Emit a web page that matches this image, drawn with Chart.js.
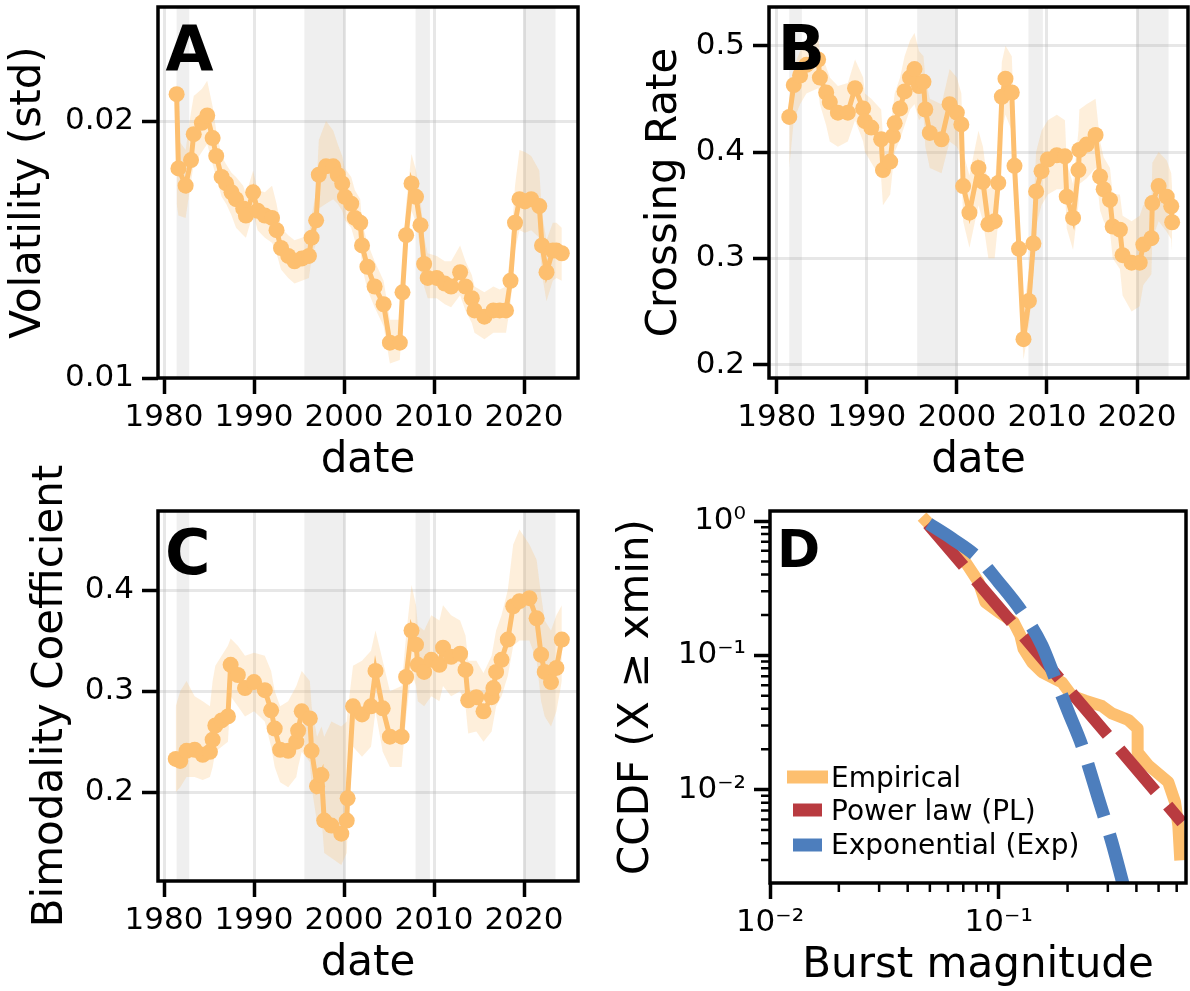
<!DOCTYPE html>
<html>
<head>
<meta charset="utf-8">
<script src="https://cdn.jsdelivr.net/npm/chart.js@4/dist/chart.umd.min.js"></script>
<style>
html, body { margin: 0; padding: 0; background: #fff; }
#root { position: relative; width: 1190px; height: 991px; overflow: hidden; }
canvas { position: absolute; }
</style>
</head>
<body>
<div id="root">
<canvas id="chart-a" width="595" height="495" style="left:0;top:0"></canvas>
<canvas id="chart-b" width="595" height="495" style="left:595px;top:0"></canvas>
<canvas id="chart-c" width="595" height="551" style="left:0;top:440px"></canvas>
<canvas id="chart-d" width="595" height="496" style="left:595px;top:495px"></canvas>
</div>
<script>
var yearTicks = [1980, 1990, 2000, 2010, 2020];
var recessions = [[1981.4, 1982.8], [1995.6, 2000.1], [2007.95, 2009.55], [2019.95, 2023.5]];

// A: volatility
var datesA = [1981.4, 1981.6, 1982.4, 1983.0, 1983.3, 1984.2, 1984.8, 1985.4, 1985.8, 1986.4, 1986.9, 1987.5, 1988.0, 1988.8, 1989.1, 1989.9, 1990.4, 1991.2, 1992.0, 1992.5, 1993.0, 1993.8, 1994.5, 1995.3, 1996.1, 1996.4, 1996.9, 1997.2, 1998.0, 1998.8, 1999.3, 1999.8, 2000.1, 2000.8, 2001.2, 2001.8, 2002.0, 2002.6, 2003.4, 2004.4, 2005.1, 2006.2, 2006.5, 2006.9, 2007.5, 2008.0, 2008.5, 2008.9, 2009.3, 2010.3, 2011.2, 2011.9, 2012.9, 2013.5, 2014.2, 2014.5, 2015.6, 2016.6, 2017.3, 2018.0, 2018.5, 2019.0, 2019.5, 2020.1, 2020.8, 2021.7, 2022.0, 2022.5, 2023.2, 2023.6, 2024.2];
var volA = [0.0215, 0.0176, 0.0168, 0.0180, 0.0193, 0.0199, 0.0203, 0.0191, 0.0182, 0.0172, 0.0169, 0.0165, 0.0162, 0.0158, 0.0155, 0.0165, 0.0157, 0.0155, 0.0154, 0.0149, 0.0142, 0.0139, 0.0137, 0.0138, 0.0139, 0.0146, 0.0153, 0.0173, 0.0177, 0.0177, 0.0173, 0.0169, 0.0163, 0.0160, 0.0154, 0.0152, 0.0143, 0.0135, 0.0128, 0.0122, 0.0110, 0.0110, 0.0126, 0.0147, 0.0169, 0.0163, 0.0151, 0.0136, 0.0131, 0.0131, 0.0129, 0.0128, 0.0133, 0.0128, 0.0124, 0.0120, 0.0118, 0.0120, 0.0120, 0.0120, 0.0130, 0.0152, 0.0162, 0.0161, 0.0162, 0.0159, 0.0143, 0.0133, 0.0141, 0.0141, 0.0140];
var volLoA = [0.0160, 0.0155, 0.0154, 0.0170, 0.0178, 0.0184, 0.0188, 0.0178, 0.0172, 0.0163, 0.0160, 0.0155, 0.0150, 0.0147, 0.0146, 0.0156, 0.0149, 0.0146, 0.0144, 0.0140, 0.0134, 0.0131, 0.0129, 0.0130, 0.0131, 0.0138, 0.0144, 0.0158, 0.0160, 0.0162, 0.0160, 0.0157, 0.0153, 0.0150, 0.0145, 0.0143, 0.0135, 0.0127, 0.0121, 0.0115, 0.0104, 0.0105, 0.0118, 0.0138, 0.0157, 0.0152, 0.0141, 0.0128, 0.0124, 0.0124, 0.0122, 0.0121, 0.0125, 0.0120, 0.0116, 0.0113, 0.0111, 0.0113, 0.0113, 0.0113, 0.0122, 0.0141, 0.0149, 0.0148, 0.0149, 0.0146, 0.0132, 0.0123, 0.0130, 0.0131, 0.0130];
var volHiA = [0.0232, 0.0190, 0.0185, 0.0205, 0.0214, 0.0218, 0.0223, 0.0208, 0.0195, 0.0182, 0.0178, 0.0174, 0.0172, 0.0168, 0.0164, 0.0175, 0.0166, 0.0165, 0.0168, 0.0160, 0.0150, 0.0147, 0.0145, 0.0146, 0.0147, 0.0155, 0.0165, 0.0190, 0.0200, 0.0195, 0.0188, 0.0182, 0.0176, 0.0172, 0.0166, 0.0162, 0.0152, 0.0144, 0.0137, 0.0130, 0.0117, 0.0117, 0.0136, 0.0160, 0.0183, 0.0175, 0.0162, 0.0146, 0.0140, 0.0139, 0.0137, 0.0137, 0.0143, 0.0137, 0.0132, 0.0128, 0.0126, 0.0128, 0.0127, 0.0128, 0.0140, 0.0168, 0.0185, 0.0184, 0.0182, 0.0175, 0.0156, 0.0145, 0.0152, 0.0152, 0.0150];
var ticksA = [0.01, 0.02];

// B: crossing rate
var datesB = [1981.4, 1981.9, 1982.6, 1983.3, 1984.6, 1984.8, 1985.5, 1985.9, 1986.8, 1987.9, 1988.7, 1989.6, 1989.8, 1990.5, 1991.6, 1991.8, 1992.6, 1992.9, 1993.1, 1993.7, 1994.2, 1994.8, 1995.3, 1995.8, 1996.3, 1996.5, 1997.0, 1998.3, 1999.2, 2000.0, 2000.5, 2000.7, 2001.4, 2002.4, 2002.9, 2003.5, 2004.2, 2004.6, 2005.0, 2005.4, 2006.1, 2006.4, 2006.9, 2007.4, 2008.0, 2008.5, 2008.8, 2009.4, 2010.1, 2011.1, 2012.0, 2012.2, 2012.9, 2013.5, 2013.6, 2014.4, 2015.4, 2015.9, 2016.3, 2017.0, 2017.3, 2018.1, 2018.4, 2019.4, 2020.3, 2020.7, 2021.6, 2021.7, 2022.4, 2023.3, 2023.8, 2023.9];
var crossB = [0.433, 0.463, 0.472, 0.482, 0.487, 0.470, 0.456, 0.447, 0.437, 0.437, 0.460, 0.441, 0.429, 0.423, 0.412, 0.383, 0.391, 0.415, 0.427, 0.441, 0.457, 0.470, 0.478, 0.462, 0.466, 0.440, 0.418, 0.412, 0.445, 0.437, 0.426, 0.368, 0.343, 0.385, 0.372, 0.332, 0.335, 0.371, 0.452, 0.469, 0.456, 0.387, 0.309, 0.224, 0.260, 0.314, 0.363, 0.382, 0.393, 0.397, 0.396, 0.358, 0.338, 0.383, 0.402, 0.407, 0.416, 0.377, 0.365, 0.355, 0.330, 0.327, 0.303, 0.296, 0.296, 0.313, 0.319, 0.352, 0.368, 0.358, 0.349, 0.334];
var crossLoB = [0.385, 0.430, 0.445, 0.455, 0.460, 0.445, 0.425, 0.410, 0.405, 0.410, 0.430, 0.410, 0.400, 0.390, 0.375, 0.350, 0.360, 0.385, 0.400, 0.412, 0.425, 0.440, 0.445, 0.430, 0.435, 0.405, 0.385, 0.380, 0.410, 0.405, 0.395, 0.335, 0.310, 0.350, 0.335, 0.300, 0.300, 0.335, 0.420, 0.435, 0.420, 0.350, 0.275, 0.205, 0.235, 0.285, 0.330, 0.350, 0.360, 0.365, 0.365, 0.328, 0.308, 0.350, 0.370, 0.375, 0.385, 0.345, 0.335, 0.325, 0.300, 0.290, 0.265, 0.250, 0.255, 0.275, 0.285, 0.318, 0.335, 0.325, 0.318, 0.305];
var crossHiB = [0.450, 0.480, 0.495, 0.505, 0.510, 0.495, 0.480, 0.470, 0.462, 0.465, 0.487, 0.470, 0.455, 0.450, 0.440, 0.415, 0.420, 0.440, 0.455, 0.470, 0.490, 0.505, 0.512, 0.495, 0.490, 0.470, 0.450, 0.445, 0.478, 0.470, 0.455, 0.400, 0.378, 0.420, 0.405, 0.365, 0.370, 0.410, 0.485, 0.500, 0.490, 0.420, 0.345, 0.250, 0.290, 0.345, 0.400, 0.420, 0.430, 0.435, 0.430, 0.390, 0.370, 0.420, 0.440, 0.445, 0.450, 0.410, 0.395, 0.385, 0.360, 0.360, 0.340, 0.335, 0.340, 0.350, 0.355, 0.390, 0.400, 0.392, 0.380, 0.365];
var ticksB = [0.2, 0.3, 0.4, 0.5];

// C: bimodality coefficient
var datesC = [1981.3, 1981.8, 1982.5, 1983.4, 1984.3, 1985.1, 1985.4, 1985.7, 1986.4, 1987.1, 1987.4, 1988.2, 1989.0, 1990.0, 1991.2, 1991.9, 1992.3, 1992.9, 1993.8, 1994.7, 1994.9, 1995.3, 1996.2, 1996.4, 1997.0, 1997.5, 1997.8, 1998.6, 1999.7, 2000.3, 2000.4, 2001.0, 2002.0, 2003.0, 2003.5, 2004.3, 2005.1, 2006.4, 2006.9, 2007.5, 2008.0, 2008.2, 2008.9, 2009.7, 2010.6, 2011.0, 2011.9, 2012.9, 2013.5, 2013.8, 2014.7, 2015.5, 2016.4, 2016.6, 2016.9, 2017.5, 2018.2, 2018.8, 2019.5, 2020.6, 2021.4, 2021.9, 2022.3, 2023.0, 2023.6, 2024.2];
var bimodC = [0.233, 0.231, 0.241, 0.242, 0.237, 0.240, 0.252, 0.266, 0.271, 0.275, 0.326, 0.316, 0.303, 0.309, 0.301, 0.281, 0.263, 0.242, 0.241, 0.250, 0.261, 0.280, 0.273, 0.241, 0.206, 0.217, 0.172, 0.167, 0.159, 0.172, 0.194, 0.285, 0.277, 0.285, 0.320, 0.283, 0.255, 0.255, 0.314, 0.360, 0.346, 0.326, 0.319, 0.331, 0.326, 0.343, 0.334, 0.337, 0.321, 0.291, 0.294, 0.280, 0.294, 0.303, 0.319, 0.331, 0.351, 0.384, 0.389, 0.392, 0.372, 0.336, 0.319, 0.309, 0.323, 0.351];
var bimodLoC = [0.200, 0.205, 0.215, 0.215, 0.212, 0.215, 0.225, 0.240, 0.245, 0.250, 0.295, 0.285, 0.275, 0.280, 0.270, 0.245, 0.225, 0.210, 0.205, 0.215, 0.225, 0.240, 0.230, 0.205, 0.170, 0.175, 0.140, 0.135, 0.128, 0.140, 0.160, 0.245, 0.235, 0.245, 0.280, 0.240, 0.225, 0.225, 0.275, 0.320, 0.305, 0.290, 0.285, 0.295, 0.290, 0.305, 0.295, 0.300, 0.285, 0.258, 0.260, 0.250, 0.260, 0.270, 0.285, 0.295, 0.315, 0.345, 0.350, 0.350, 0.330, 0.290, 0.275, 0.265, 0.280, 0.310];
var bimodHiC = [0.285, 0.300, 0.310, 0.295, 0.290, 0.285, 0.310, 0.325, 0.335, 0.345, 0.352, 0.345, 0.335, 0.338, 0.335, 0.320, 0.300, 0.285, 0.290, 0.305, 0.310, 0.320, 0.310, 0.285, 0.255, 0.265, 0.255, 0.270, 0.265, 0.270, 0.280, 0.325, 0.330, 0.340, 0.360, 0.330, 0.300, 0.305, 0.355, 0.405, 0.385, 0.365, 0.360, 0.375, 0.370, 0.385, 0.375, 0.370, 0.355, 0.330, 0.330, 0.318, 0.335, 0.345, 0.360, 0.375, 0.400, 0.445, 0.460, 0.445, 0.430, 0.395, 0.370, 0.360, 0.375, 0.385];
var ticksC = [0.2, 0.3, 0.4];

// D: burst magnitude CCDF
var empX = [0.0482, 0.0715, 0.0817, 0.0874, 0.0999, 0.1161, 0.1243, 0.1284, 0.1397, 0.1545, 0.1889, 0.2089, 0.2388, 0.2824, 0.3124, 0.369, 0.405, 0.405, 0.451, 0.551, 0.590, 0.610, 0.620];
var empY = [1.0, 0.495, 0.351, 0.249, 0.210, 0.177, 0.141, 0.112, 0.089, 0.075, 0.063, 0.050, 0.046, 0.042, 0.037, 0.033, 0.0285, 0.019, 0.0152, 0.0114, 0.0081, 0.0054, 0.0033];
var plX = [0.049, 0.633];
var plY = [0.95, 0.0057];
var expX = [0.0494, 0.0625, 0.0804, 0.0999, 0.1264, 0.1545, 0.1766, 0.2018, 0.2309, 0.2729, 0.3124, 0.3509];
var expY = [0.956, 0.74, 0.54, 0.351, 0.210, 0.1187, 0.0671, 0.0378, 0.0214, 0.00857, 0.00407, 0.00194];
var ticksD = [0.01, 0.1, 1];
var tickLabelsD = ['10\u207B\u00B2', '10\u207B\u00B9', '10\u2070'];
var legendD = ['Empirical', 'Power law (PL)', 'Exponential (Exp)'];

var ORANGE = '#fdbf6f';
var RED = '#b93b40';
var BLUE = '#4d7ebd';
var BAND = 'rgba(253,191,111,0.25)';
var GRID = 'rgba(176,176,176,0.3)';
var SPAN = 'rgba(128,128,128,0.13)';
var FONT = '"DejaVu Sans"';

Chart.defaults.font.family = 'DejaVu Sans';
Chart.defaults.color = '#000';

function pts(xs, ys) {
	return xs.map(function (x, i) { return {x: x, y: ys[i]}; });
}
function setTicks(values) {
	return function (scale) {
		scale.ticks = values.map(function (v) { return {value: v}; });
	};
}
function fixWidth(w) {
	return function (scale) { scale.width = w; scale.paddingTop = 0; scale.paddingBottom = 0; };
}
function fixHeight(h) {
	return function (scale) { scale.height = h; scale.paddingLeft = 0; scale.paddingRight = 0; };
}

var shade = {
	id: 'shade',
	beforeDraw: function (chart) {
		var ctx = chart.ctx, a = chart.chartArea, x = chart.scales.x;
		ctx.save();
		ctx.fillStyle = SPAN;
		recessions.forEach(function (r) {
			var x0 = x.getPixelForValue(r[0]), x1 = x.getPixelForValue(r[1]);
			ctx.fillRect(x0, a.top, x1 - x0, a.bottom - a.top);
		});
		ctx.restore();
	}
};

function frame(letter, size, dx, base) {
	return {
		id: 'frame',
		afterDraw: function (chart) {
			var ctx = chart.ctx, a = chart.chartArea;
			ctx.save();
			ctx.lineWidth = 3.5;
			ctx.strokeStyle = '#000';
			ctx.strokeRect(a.left, a.top, a.right - a.left, a.bottom - a.top);
			ctx.fillStyle = '#000';
			ctx.font = 'bold ' + size + 'px ' + FONT;
			ctx.textBaseline = 'alphabetic';
			ctx.textAlign = 'left';
			ctx.fillText(letter, a.left + dx, base);
			ctx.restore();
		}
	};
}

function series(dates, vals, lo, hi) {
	return [{
		data: pts(dates, vals),
		borderColor: ORANGE,
		borderWidth: 5,
		pointRadius: 8,
		pointBorderWidth: 0,
		pointBackgroundColor: ORANGE,
		fill: false
	}, {
		data: pts(dates, hi),
		borderColor: 'rgba(0,0,0,0)',
		borderWidth: 0,
		pointRadius: 0,
		backgroundColor: BAND,
		fill: '+1'
	}, {
		data: pts(dates, lo),
		borderColor: 'rgba(0,0,0,0)',
		borderWidth: 0,
		pointRadius: 0,
		fill: false
	}];
}

function timeOptions(c) {
	return {
		responsive: false,
		animation: false,
		devicePixelRatio: 1,
		events: [],
		layout: {padding: {top: c.top, right: c.right, left: 0, bottom: 0}, autoPadding: false},
		plugins: {legend: {display: false}, tooltip: {enabled: false}},
		scales: {
			x: {
				type: 'linear', min: c.xmin, max: c.xmax,
				afterBuildTicks: setTicks(yearTicks),
				afterFit: fixHeight(c.xh),
				border: {display: false},
				grid: {color: GRID, lineWidth: 3, tickColor: '#000', tickWidth: 3.5, tickLength: 16},
				ticks: {font: {size: 31}, padding: 5, autoSkip: false, maxRotation: 0, minRotation: 0,
					callback: function (v) { return String(v); }},
				title: {display: true, text: 'date', font: {size: 42}, padding: {top: 0, bottom: c.xtp}}
			},
			y: {
				type: c.ytype, min: c.ymin, max: c.ymax,
				afterBuildTicks: setTicks(c.yticks),
				afterFit: fixWidth(c.yw),
				border: {display: false},
				grid: {color: GRID, lineWidth: 3, tickColor: '#000', tickWidth: 3.5, tickLength: 16},
				ticks: {font: {size: 31}, padding: 8, autoSkip: false, callback: c.fmt},
				title: {display: !!c.ytitle, text: c.ytitle || '', font: {size: 42}, padding: {top: c.ytp, bottom: 0}}
			}
		}
	};
}

new Chart(document.getElementById('chart-a'), {
	type: 'line',
	data: {datasets: series(datesA, volA, volLoA, volHiA)},
	options: timeOptions({top: 7, right: 17, xh: 117, yw: 158, xtp: 9, ytp: 4,
		xmin: 1979.33, xmax: 2026.0, ytype: 'logarithmic', ymin: 0.01, ymax: 0.0272, yticks: ticksA,
		fmt: function (v) { return v.toFixed(2); }, ytitle: 'Volatility (std)'}),
	plugins: [shade, frame('A', 62, 7.5, 70)]
});

new Chart(document.getElementById('chart-b'), {
	type: 'line',
	data: {datasets: series(datesB, crossB, crossLoB, crossHiB)},
	options: timeOptions({top: 7, right: 2, xh: 117, yw: 174, xtp: 9, ytp: 45,
		xmin: 1979.15, xmax: 2025.66, ytype: 'linear', ymin: 0.1875, ymax: 0.5364, yticks: ticksB,
		fmt: function (v) { return v.toFixed(1); }, ytitle: 'Crossing Rate'}),
	plugins: [shade, frame('B', 62, 8.7, 70)]
});

// the long C label does not fit the axis height, so it is drawn by hand
var titleC = {
	id: 'titleC',
	afterDraw: function (chart) {
		var ctx = chart.ctx, a = chart.chartArea;
		ctx.save();
		ctx.translate(62, (a.top + a.bottom) / 2);
		ctx.rotate(-Math.PI / 2);
		ctx.fillStyle = '#000';
		ctx.font = '42px ' + FONT;
		ctx.textAlign = 'center';
		ctx.textBaseline = 'alphabetic';
		ctx.fillText('Bimodality Coefficient', 0, 0);
		ctx.restore();
	}
};

new Chart(document.getElementById('chart-c'), {
	type: 'line',
	data: {datasets: series(datesC, bimodC, bimodLoC, bimodHiC)},
	options: timeOptions({top: 71, right: 17, xh: 110, yw: 158, xtp: 2, ytp: 0,
		xmin: 1979.33, xmax: 2026.0, ytype: 'linear', ymin: 0.1122, ymax: 0.4782, yticks: ticksC,
		fmt: function (v) { return v.toFixed(1); }, ytitle: ''}),
	plugins: [shade, frame('C', 62, 7, 134), titleC]
});

var minorD = {
	id: 'minorD',
	afterDraw: function (chart) {
		var ctx = chart.ctx, a = chart.chartArea, sx = chart.scales.x, sy = chart.scales.y;
		ctx.save();
		ctx.strokeStyle = '#000';
		ctx.lineWidth = 2.5;
		ctx.beginPath();
		[0.001, 0.01, 0.1, 1].forEach(function (d) {
			for (var m = 2; m <= 9; m++) {
				var v = m * d;
				if (v > sy.min && v < sy.max) {
					var py = sy.getPixelForValue(v);
					ctx.moveTo(a.left, py);
					ctx.lineTo(a.left - 9, py);
				}
				if (v > sx.min && v < sx.max) {
					var px = sx.getPixelForValue(v);
					ctx.moveTo(px, a.bottom);
					ctx.lineTo(px, a.bottom + 9);
				}
			}
		});
		ctx.stroke();
		ctx.restore();
	}
};

var legendBox = {
	id: 'legendBox',
	afterDraw: function (chart) {
		var ctx = chart.ctx;
		var rows = [
			{color: ORANGE, y: 282, base: 292, x0: 192, x1: 233},
			{color: RED, y: 315, base: 325, x0: 198, x1: 227},
			{color: BLUE, y: 350, base: 358.5, x0: 198, x1: 227}
		];
		ctx.save();
		ctx.lineWidth = 13;
		ctx.lineCap = 'butt';
		ctx.font = '28px ' + FONT;
		ctx.fillStyle = '#000';
		ctx.textBaseline = 'alphabetic';
		rows.forEach(function (r, i) {
			ctx.strokeStyle = r.color;
			ctx.beginPath();
			ctx.moveTo(r.x0, r.y);
			ctx.lineTo(r.x1, r.y);
			ctx.stroke();
			ctx.fillText(legendD[i], 236, r.base);
		});
		ctx.restore();
	}
};

new Chart(document.getElementById('chart-d'), {
	type: 'line',
	data: {
		datasets: [{
			data: pts(expX, expY),
			borderColor: BLUE, borderWidth: 13, borderDash: [55, 19],
			pointRadius: 0, fill: false, cubicInterpolationMode: 'monotone'
		}, {
			data: pts(plX, plY),
			borderColor: RED, borderWidth: 12, borderDash: [55, 19],
			pointRadius: 0, fill: false
		}, {
			data: pts(empX, empY),
			borderColor: ORANGE, borderWidth: 12, borderJoinStyle: 'round', borderCapStyle: 'square',
			pointRadius: 0, fill: false
		}]
	},
	options: {
		responsive: false,
		animation: false,
		devicePixelRatio: 1,
		events: [],
		layout: {padding: {top: 16, right: 4, left: 0, bottom: 0}, autoPadding: false},
		plugins: {legend: {display: false}, tooltip: {enabled: false}},
		scales: {
			x: {
				type: 'logarithmic', min: 0.01, max: 0.659,
				afterBuildTicks: setTicks([0.01, 0.1]),
				afterFit: fixHeight(108),
				border: {display: false},
				grid: {display: true, drawOnChartArea: false, tickColor: '#000', tickWidth: 3.5, tickLength: 16},
				ticks: {font: {size: 31}, padding: 5, autoSkip: false, maxRotation: 0, minRotation: 0,
					callback: function (v) { return tickLabelsD[ticksD.indexOf(v)]; }},
				title: {display: true, text: 'Burst magnitude', font: {size: 42}, padding: {top: 0, bottom: 0}}
			},
			y: {
				type: 'logarithmic', min: 0.00202, max: 1.187,
				afterBuildTicks: setTicks(ticksD),
				afterFit: fixWidth(175),
				border: {display: false},
				grid: {display: true, drawOnChartArea: false, tickColor: '#000', tickWidth: 3.5, tickLength: 16},
				ticks: {font: {size: 31}, padding: 8, autoSkip: false,
					callback: function (v) { return tickLabelsD[ticksD.indexOf(v)]; }},
				title: {display: true, text: 'CCDF (X \u2265 xmin)', font: {size: 42}, padding: {top: 16.5, bottom: 0}}
			}
		}
	},
	plugins: [frame('D', 52, 7, 71.7), minorD, legendBox]
});
</script>
</body>
</html>
